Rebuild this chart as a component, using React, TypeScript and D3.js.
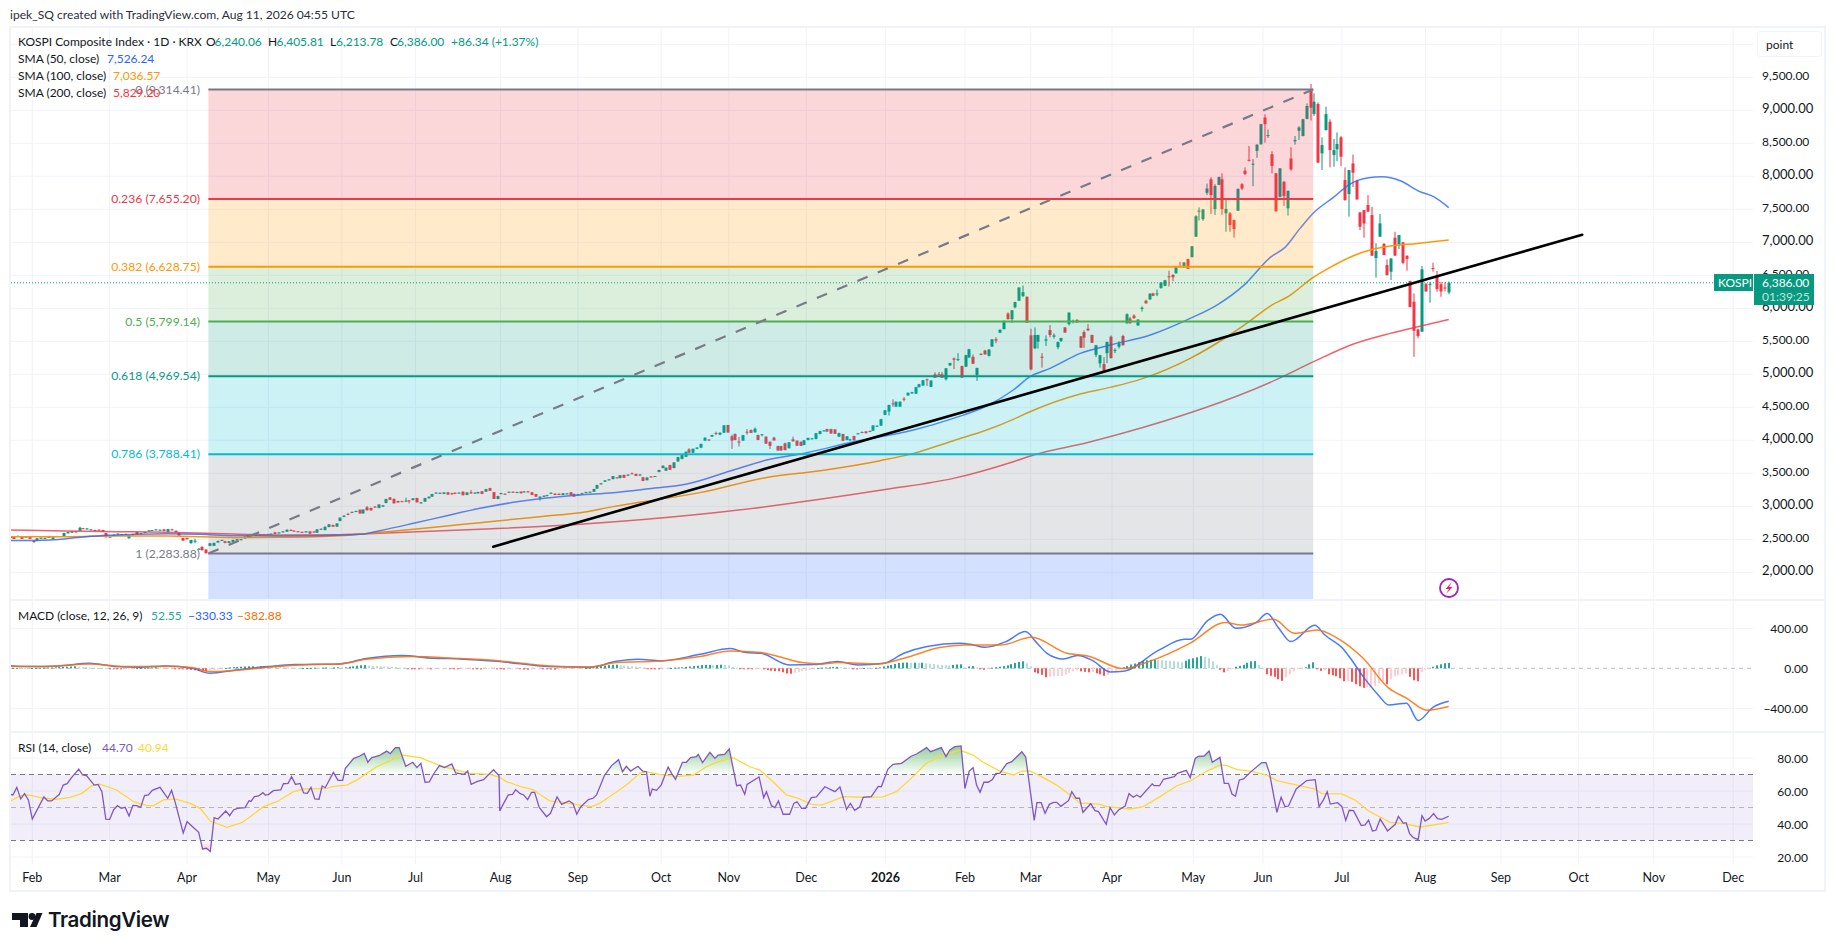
import React from 'react';
import * as d3 from 'd3';

const FONT = "Lato, 'Noto Sans', sans-serif";

// daily bars: open, high, low, close
const ohlc: number[][] = [
  [2520,2540,2515,2535],[2540,2545,2505,2505],[2540,2560,2535,2550],[2545,2550,2505,2505],[2530,2545,2525,2540],
  [2540,2545,2505,2505],[2475,2480,2445,2465],[2490,2515,2470,2515],[2510,2525,2505,2525],[2520,2525,2515,2522],
  [2535,2540,2525,2528],[2505,2535,2500,2530],[2535,2552,2533,2550],[2535,2550,2533,2550],[2550,2600,2548,2595],
  [2590,2615,2588,2610],[2600,2625,2598,2620],[2618,2622,2610,2612],[2630,2690,2625,2675],[2668,2672,2660,2663],
  [2650,2668,2648,2665],[2640,2652,2638,2650],[2635,2645,2632,2642],[2645,2650,2638,2640],[2640,2645,2615,2615],
  [2595,2597,2530,2530],[2530,2542,2528,2540],[2550,2572,2548,2570],[2570,2590,2565,2585],[2572,2580,2565,2577],
  [2575,2585,2570,2582],[2515,2560,2512,2555],[2570,2582,2555,2578],[2610,2612,2570,2570],[2580,2592,2578,2590],
  [2595,2612,2593,2610],[2622,2638,2620,2635],[2635,2642,2630,2640],[2640,2652,2635,2650],[2630,2648,2628,2645],
  [2650,2655,2625,2625],[2615,2660,2610,2655],[2650,2660,2640,2642],[2630,2632,2610,2610],[2595,2598,2555,2555],
  [2520,2522,2480,2480],[2520,2525,2500,2500],[2440,2490,2435,2490],[2470,2510,2440,2480],[2355,2370,2350,2355],
  [2385,2395,2330,2335],[2345,2350,2284,2290],
  [2400,2445,2395,2440],[2400,2450,2398,2445],[2452,2480,2445,2475],[2485,2495,2475,2490],[2470,2478,2440,2445],
  [2445,2475,2440,2470],[2460,2495,2455,2490],[2480,2505,2475,2500],[2490,2505,2485,2500],[2515,2545,2510,2540],
  [2540,2565,2535,2560],[2555,2580,2550,2575],[2570,2580,2560,2565],[2560,2575,2555,2570],[2575,2580,2565,2570],
  [2570,2585,2565,2580],[2575,2590,2570,2585],
  [2606,2612,2578,2582],[2595,2608,2590,2604],[2606,2625,2603,2620],[2615,2650,2612,2645],[2642,2652,2628,2630],
  [2632,2636,2618,2622],[2622,2626,2606,2610],[2612,2618,2604,2608],[2606,2626,2602,2620],[2620,2624,2582,2586],
  [2618,2624,2600,2604],[2600,2655,2598,2650],[2648,2664,2642,2660],[2640,2695,2636,2690],[2686,2732,2682,2727],
  [2716,2722,2688,2692],[2692,2745,2688,2740],[2778,2832,2772,2828],[2840,2865,2835,2858],[2885,2900,2865,2872],
  [2902,2920,2896,2915],[2925,2935,2918,2928],[2948,2952,2888,2892],[2892,2955,2888,2950],[2985,3005,2935,2940],
  [2975,2980,2935,2938],[2995,3005,2985,2990],[2975,3032,2970,3028],[2995,3020,2990,3014],[3050,3115,3045,3110],
  [3135,3140,3095,3098],[3112,3118,3042,3045],[3080,3085,3055,3058],[3078,3085,3065,3070],[3080,3130,3072,3085],
  [3090,3095,3045,3082],[3095,3125,3090,3120],[3125,3130,3058,3060],[3055,3065,3040,3060],[3070,3128,3065,3125],
  [3122,3150,3118,3145],[3146,3190,3142,3185],[3195,3212,3190,3208],[3195,3210,3190,3205],[3188,3215,3185,3210],
  [3212,3218,3175,3178],[3198,3205,3170,3190],[3205,3212,3185,3195],[3198,3212,3192,3208],[3222,3226,3165,3168],
  [3172,3215,3168,3210],[3212,3245,3190,3195],[3200,3212,3192,3208],[3198,3220,3192,3216],[3228,3232,3185,3188],
  [3222,3265,3218,3260],[3275,3280,3232,3235],[3215,3218,3112,3112],[3112,3160,3108,3155],[3185,3205,3180,3200],
  [3190,3196,3178,3183],[3212,3225,3205,3220],[3220,3226,3208,3212],[3212,3222,3205,3216],[3222,3226,3195,3198],
  [3215,3230,3210,3225],[3226,3232,3212,3216],[3212,3218,3170,3172],[3185,3190,3145,3146],[3128,3150,3085,3146],
  [3150,3165,3142,3160],[3160,3175,3150,3170],[3192,3212,3185,3205],[3192,3196,3170,3172],[3190,3195,3170,3172],
  [3172,3202,3168,3198],[3185,3200,3180,3195],[3212,3218,3165,3168],[3188,3192,3146,3148],[3170,3190,3165,3182],
  [3188,3205,3182,3198],[3205,3222,3200,3215],[3210,3225,3205,3220],[3222,3265,3218,3262],[3268,3325,3262,3322],
  [3335,3355,3330,3348],[3372,3398,3368,3392],[3398,3415,3392,3408],[3412,3460,3408,3458],[3438,3442,3422,3425],
  [3428,3475,3422,3472],[3475,3480,3430,3432],[3465,3485,3458,3480],[3500,3512,3488,3492],[3490,3496,3458,3460],
  [3470,3490,3462,3482],[3440,3445,3382,3385],[3395,3440,3392,3436],[3452,3458,3442,3446],[3450,3460,3445,3458],
  [3520,3555,3515,3550],
  [3580,3620,3575,3615],[3540,3590,3535,3585],[3625,3630,3550,3553],[3580,3668,3575,3665],[3680,3750,3675,3745],
  [3718,3778,3712,3776],[3750,3830,3745,3826],[3862,3880,3810,3812],[3812,3875,3808,3872],[3872,3895,3865,3890],
  [3888,3950,3882,3945],[3995,4045,3990,4040],[4012,4018,3990,4000],[4055,4085,4050,4080],[4110,4130,4080,4100],
  [4085,4120,4078,4115],[4115,4232,4110,4228],[4232,4235,4116,4118],[4060,4085,3870,3995],[4095,4105,4000,4005],
  [3980,4050,3905,3970],[3995,4082,3990,4078],[4130,4170,4085,4120],[4155,4165,4110,4112],[4120,4195,4115,4175],
  [4080,4085,4002,4005],[4085,4095,4060,4092],[4055,4060,3945,3948],[3978,3982,3868,3915],[4040,4055,3995,3998],
  [3913,3918,3842,3845],[3913,3918,3842,3845],[3954,3965,3848,3852],[3880,3975,3875,3970],[4015,4055,3980,3985],
  [3994,4000,3915,3918],[3978,3982,3912,3915],[3930,4005,3925,4000],[4005,4040,4000,4036],[4025,4035,4015,4030],
  [4020,4112,4015,4108],[4095,4145,4090,4140],[4140,4155,4135,4150],[4170,4175,4130,4132],[4170,4175,4100,4102],
  [4165,4170,4095,4098],[4055,4115,4050,4110],[4095,4100,3990,3992],[4005,4065,4000,4060],[4000,4025,3985,4015],
  [4065,4070,3998,4000],[4100,4112,4090,4105],[4125,4135,4110,4118],[4135,4140,4105,4108],[4140,4150,4125,4130],
  [4145,4230,4140,4225],[4210,4225,4205,4222],[4222,4325,4218,4320],[4385,4460,4380,4455],[4435,4540,4375,4535],
  [4560,4620,4510,4545],[4510,4590,4505,4585],[4510,4590,4505,4585],[4630,4655,4590,4620],[4680,4725,4675,4720],
  [4710,4735,4705,4730],[4705,4810,4700,4805],[4805,4855,4800,4850],[4830,4915,4825,4910],[4925,4935,4825,4915],
  [4810,4910,4805,4905],[4998,5030,4945,4948],[5000,5035,4990,4995],[5000,5035,4945,4948],[4925,5095,4905,5090],
  [5135,5175,5125,5170],[5240,5255,5080,5220],[5220,5320,5200,5230],[5125,5130,4950,4950],[5115,5295,5110,5290],
  [5255,5385,5250,5380],[5265,5300,5155,5160],[4990,5100,4900,5095],[5310,5320,5290,5300],[5360,5370,5300,5302],
  [5280,5380,5270,5375],[5420,5535,5415,5530],[5530,5560,5470,5510],[5630,5680,5625,5675],[5685,5815,5680,5810],
  [5920,5940,5830,5835],[5835,5975,5780,5970],[6015,6100,6000,6095],[6115,6320,6110,6315],[6185,6345,6170,6245],
  [6175,6180,5780,5782],[5590,5690,5060,5075],[5395,5710,5380,5595],[5495,5600,5390,5595],[5265,5320,5100,5260],
  [5510,5590,5430,5530],[5670,5745,5560,5595],[5570,5620,5540,5590],[5410,5495,5380,5490],[5505,5555,5490,5550],
  [5710,5715,5630,5632],[5760,5940,5740,5935],[5800,5830,5770,5810],[5825,5835,5780,5785],
  [5575,5580,5400,5403],[5640,5665,5400,5555],[5690,5760,5660,5665],[5595,5600,5475,5478],[5295,5445,5260,5440],
  [5165,5295,5100,5290],[5155,5260,5050,5055],[5320,5495,5170,5490],[5570,5590,5240,5245],[5360,5395,5320,5370],
  [5418,5500,5390,5468],[5580,5600,5435,5440],[5772,5925,5770,5910],[5847,5870,5765,5775],[5890,5910,5840,5850],
  [5740,5835,5735,5830],[5990,6030,5950,6010],[6115,6130,6070,6075],[6135,6230,6125,6222],[6226,6235,6185,6188],
  [6220,6285,6185,6225],[6305,6395,6300,6390],[6340,6430,6335,6425],[6485,6570,6330,6480],[6505,6520,6410,6470],
  [6530,6635,6525,6630],[6640,6705,6620,6635],[6620,6700,6615,6695],[6745,6750,6595,6598],[6775,6945,6770,6940],
  [7085,7410,7080,7395],[7480,7530,7330,7480],[7350,7505,7325,7498],[7750,7890,7715,7815],[7955,7985,7430,7715],
  [7504,7880,7415,7852],[7870,7995,7865,7990],[7955,8045,7415,7505],[7440,7640,7160,7505],[7438,7460,7160,7262],
  [7337,7345,7070,7200],[7478,7815,7475,7810],[7880,7895,7790,7815],[8085,8135,8020,8035],[8250,8460,8225,8235],
  [8180,8260,7850,8190],[8385,8485,8280,8480],[8485,8795,8480,8790],[8890,8940,8510,8790],[8610,8710,8580,8625],
  [8335,8380,8045,8155],[8045,8050,7465,7470],[7690,8125,7680,8120],[7918,7925,7550,7700],[7515,7785,7405,7780],
  [8270,8440,8085,8105],[8530,8610,8480,8550],[8690,8760,8550,8740],[8610,8870,8605,8865],[8870,9105,8865,9065],
  [9290,9400,8845,9040],[8945,9255,8915,9130],[9095,9120,8205,8208],[8347,8590,8095,8473],[8700,9055,8695,8942],
  [8827,8865,8135,8398],[8322,8565,8145,8398],[8408,8665,8230,8490],[8590,8610,8155,8297],[7943,8135,7630,7640],
  [7730,8095,7388,8095],[8195,8330,7840,8055],[7933,7950,7645,7650],[7453,7460,7185,7235],[7488,7490,7070,7285],
  [7565,7715,7460,7465],[7413,7540,6795,6797],[6760,6985,6465,6868],[7085,7428,7080,7287],[6975,6990,6805,6808],
  [6655,6740,6495,6503],[6555,6757,6428,6755],[7070,7160,6795,6798],[6967,7110,6897,7110],[7000,7005,6670,6690],
  [6797,6800,6570,6748],[6412,6420,6015,6020],[6100,6225,5265,5660],[5680,5690,5545,5580],[5645,6640,5645,6590],
  [6367,6385,6250,6255],[6360,6400,6085,6370],[6610,6690,6555,6600],[6495,6565,6250,6290],[6365,6400,6175,6255],
  [6315,6395,6255,6300],[6240.06,6405.81,6213.78,6386],
];

// moving averages: [bars back from the last bar, value]
const sma50: number[][] = [
  [371.7,2480],[361.4,2490],[352.8,2535],[346.7,2560],[339.8,2575],[331.2,2585],[322.6,2575],[314,2555],[302,2550],
  [291.7,2555],[281.3,2575],[276.2,2631],[267.5,2742],[258.9,2858],[250.3,2969],[241.7,3060],[233.1,3126],[224.5,3171],
  [215.9,3207],[207.3,3262],[196.9,3337],[185.7,3534],[176.2,3701],[165.9,3812],[153.8,3979],[138.3,4155],[128,4332],
  [119.4,4519],[112.5,4762],[108.2,4964],[103,5090],[95.2,5317],[87.5,5443],[77.1,5595],[66.8,5847],[59.9,6049],
  [52.6,6367],[46.1,6771],[42.3,6923],[38.4,7211],[34.9,7448],[29.8,7680],[25.5,7882],[20.7,7978],[17.3,7993],
  [12.5,7933],[7.8,7776],[3.9,7691],[0,7526],
];
const sma100: number[][] = [
  [371.7,2540],[357.1,2540],[344.2,2550],[331.2,2550],[314,2525],[302,2530],[286.5,2555],[276.2,2606],[267.5,2651],
  [258.9,2702],[250.3,2752],[241.7,2803],[233.1,2853],[224.5,2904],[215.9,2995],[207.3,3075],[193.5,3207],[176.2,3438],
  [162.4,3539],[146.9,3691],[138.3,3802],[128,3994],[119.4,4155],[112.5,4317],[108.2,4433],[95.2,4701],[87.5,4802],
  [79.7,4923],[66.8,5241],[57.3,5569],[52.2,5772],[46.1,6034],[40.9,6201],[35.4,6453],[31.1,6605],[24.6,6797],
  [20.3,6882],[15.1,6943],[8.2,6983],[0,7036.57],
];
const sma200: number[][] = [
  [371.7,2641],[357.1,2626],[344.2,2616],[331.2,2606],[314,2580],[302,2565],[286.5,2570],[276.2,2590],[250.3,2651],
  [224.5,2727],[193.5,2878],[145.2,3257],[128,3423],[112.5,3676],[107.3,3777],[93.5,3964],[85,4095],[44.4,4923],
  [34.9,5191],[24.6,5458],[15.1,5620],[9.1,5706],[0,5829.2],
];

const macdLine: number[][] = [
  [371.8,27],[367.4,17],[359.3,24],[351.2,50],[344.3,17],[338.5,10],[331.6,24],[324.7,0],[320.1,-50],[313.2,-16],[305.1,17],
  [298.2,37],[286.6,44],[279.7,97],[270.5,127],[262.4,100],[255.5,94],[245.1,67],[232.4,17],[222.1,10],[215.1,70],[209.4,90],
  [203.6,74],[193.5,140],[185.6,197],[181.6,157],[177.7,150],[170.4,34],[163.8,37],[157.9,67],[152.6,34],[146,50],[140.8,150],
  [134.8,217],[126.3,250],[123.6,240],[119.7,210],[114.4,267],[109.4,367],[106.5,257],[103.8,150],[99.6,94],[95.9,127],[92,77],
  [87.4,-36],[84.1,-30],[74.8,184],[68.3,290],[66.7,290],[62.3,477],[59,540],[55,400],[49.8,457],[46.9,547],[43.9,400],
  [40.8,267],[34.6,430],[32,333],[27.4,200],[25.4,100],[22.1,-83],[18.2,-266],[15.5,-366],[10.9,-349],[7.9,-522],[4,-389],[0,-330.33],
];
const macdSignal: number[][] = [
  [371.8,20],[362.8,17],[351.2,44],[342,17],[331.6,20],[324.7,7],[320.1,-33],[313.2,-20],[305.1,10],[293.6,37],[286.6,44],
  [279.7,90],[268.2,117],[255.5,97],[245.1,74],[232.4,24],[222.1,14],[215.1,57],[203.6,74],[193.5,117],[185.6,174],[177.7,157],
  [173.7,124],[167.1,57],[161.9,44],[157.9,57],[147.4,44],[140.8,100],[131.5,207],[124.9,234],[115.7,234],[107.8,310],[98.6,150],
  [93.3,124],[84.1,-3],[77.5,67],[66.9,250],[57.7,457],[53.7,433],[45.2,490],[39.9,350],[34,383],[28.7,300],[22.1,100],
  [15.5,-199],[10.9,-299],[5.6,-419],[0,-382.88],
];
// one histogram value per bar, oldest first
const macdHist: number[] = [
  5,5,4,3,2,3,4,5,6,8,8,10,12,14,16,18,20,
  15,12,10,8,5,3,2,1,
  -2,-4,-6,-8,-6,-5,-3,
  2,4,6,8,8,10,8,6,4,2,
  -2,-4,-8,-12,-16,-20,-25,-28,-30,
  -25,-18,-10,-4,
  4,8,12,14,16,18,20,20,18,20,22,
  18,16,14,12,10,8,6,4,2,
  2,3,4,6,5,7,8,6,8,10,8,10,
  16,20,26,30,32,
  26,24,22,20,18,16,14,12,8,4,
  -2,-4,-6,-8,-8,-6,-10,-8,
  -6,-5,-4,-6,-8,-10,-8,-6,-5,-7,-9,-11,-9,-7,-5,-8,-10,-12,-10,-8,-6,-9,-12,-14,-11,-8,-6,-8,-10,-12,-14,-12,-10,-8,-6,-5,-4,-2,
  3,6,10,16,22,28,32,35,36,
  30,28,24,20,16,12,6,
  -2,-4,-5,-6,-4,-2,
  3,6,8,10,14,18,22,26,
  32,34,34,32,34,36,34,30,14,6,
  -4,-6,-8,-10,-8,-6,-8,
  -18,-24,-28,-30,-40,-52,-54,
  -44,-36,-30,-24,-16,-8,
  4,6,8,10,12,14,10,8,5,
  -6,-8,-5,4,3,2,5,
  10,18,26,34,44,54,
  56,58,54,56,54,56,50,
  46,42,36,34,30,28,34,38,40,
  6,18,22,6,-10,-14,-8,
  6,10,16,22,30,42,54,64,70,50,20,
  -40,-52,-65,-90,
  -85,-80,-78,-75,-60,-45,-30,-20,
  -30,-35,-40,-38,-50,-60,-75,-65,
  -40,-25,-10,
  10,22,38,48,60,72,80,85,
  85,82,80,78,75,72,66,60,
  75,90,100,110,122,
  115,100,70,30,
  -15,-40,-25,-10,
  15,25,35,55,70,72,35,5,
  -60,-75,-85,-110,-125,
  -90,-60,-30,-5,-3,
  10,40,60,
  -10,-25,-20,-60,-70,-80,-100,
  -130,-130,-135,-160,-180,-195,
  -190,-190,-175,-150,-130,-160,
  -110,-80,-70,-60,-50,
  -85,-120,-130,
  -40,-15,-5,
  15,30,40,50,52.55,
];

const rsi: number[][] = [
  [372,58.2],[371,57.6],[370,62.2],[369,55.2],[368,58.4],[367,54.6],[366,43],[363,56.4],[362,54],[361,54],[359,58],[358,63.6],
  [357,64.4],[356,67.7],[354,73.3],[353,69.7],[352,69.3],[350,63.6],[349,64],[348,59.6],[347,43],[346,42.8],[345,48.5],[344,51.1],
  [343,49.5],[342,50.1],[341,44.9],[340,51.3],[339,51.1],[338,50.1],[337,57.2],[336,57.6],[335,60.4],[333,62.2],[331,55.6],[330,60.4],
  [329,52.5],[327,34.6],[326,41.4],[323,35],[322,24.9],[321,25.3],[320,23.4],[319,43.8],[318,43],[316,47.9],[315,45.1],[314,48.5],
  [313,49.5],[311,49.9],[310,54.1],[309.5,53.7],[308.6,56.6],[307.5,57],[306.4,59],[305.8,57.6],[305,57.8],[303.7,60.2],[301.8,60.6],
  [301.1,64.4],[299.9,64.6],[299,68.7],[298,64],[296.8,64.6],[295.9,58.8],[294.9,58.6],[294,62.2],[293,55.2],[291.9,55],[291.1,63],
  [290.3,62],[288.2,71.3],[287,66.5],[285.8,66.5],[285.1,73.7],[283,79.6],[281.4,81.2],[280.2,82.8],[279.3,77.4],[278.3,80.2],
  [276.4,81.4],[274.4,84.2],[273.5,82.6],[272.2,86.3],[271.2,86.3],[269.5,75],[267.7,77.4],[266.6,74.2],[265.6,76.8],[264.5,65.3],
  [263.4,65.5],[262.3,70.3],[260.8,75.4],[259.5,74.2],[257.6,76.4],[256.6,70.9],[254.4,70.1],[253.5,72.1],[252.6,64],[251.1,65.7],
  [249.4,66.9],[246.8,72.9],[245.4,69.3],[245.2,47.9],[244.2,52.5],[243,57.6],[241.9,58],[241.1,60.8],[239.9,58.4],[239,57.6],[238,54.8],
  [237,59.2],[236.2,59.2],[235,50.1],[233.1,44.4],[232.1,46.5],[230.4,56.4],[229.2,51.9],[227.3,54],[226.3,52.5],[225.3,45.9],[224.3,50.3],
  [222.3,54.8],[221.1,55.6],[220.2,57.6],[218.1,69.7],[216.3,75.4],[214.5,79],[213.5,71.7],[212.5,75],[211.4,72.1],[209.5,75],[208.3,72.1],
  [207.3,71.7],[206.4,56.8],[205.8,61.2],[204.7,60.4],[203.5,63.6],[201.7,74.5],[200.8,70.7],[199.8,67.1],[198,77.4],[197,77.4],[195.9,80.2],
  [194.4,80.8],[193.9,82.2],[192.8,77.2],[190.9,83.4],[189.6,79.8],[188.8,81.8],[187.1,82.2],[185.9,85.5],[184,63.2],[183,63.6],[181.9,58],
  [181.3,64],[178.2,68.5],[177,56],[176.3,59.6],[175,51.1],[174.1,49.9],[173.2,54],[172,45.9],[170.3,45.9],[169.2,52.5],[168.4,53.5],[167.2,49.5],
  [166.2,49.5],[164.7,56],[163.4,56.4],[161.2,62.6],[158.6,59.6],[157.3,62.4],[155.6,48.9],[154.6,52.5],[153.5,48.3],[152.2,50.3],[151.3,56.2],
  [149.2,56.6],[147.4,62.8],[146.6,62.6],[144.9,73.3],[143.6,76.2],[141.4,76.8],[138.8,81.2],[137.5,82.4],[134.9,86.3],[133.9,83.8],[131.1,86.3],
  [129.9,80.8],[128.9,84.9],[127.6,86.9],[126,87.3],[125,61.6],[123.9,72.1],[122.9,74.1],[122,63.6],[121.1,59.2],[120.1,65.3],[119,65.3],[117.9,66.9],
  [117,70.7],[116,70.7],[114.2,76.6],[112.9,77.8],[110.3,83.8],[109.3,80.6],[107.1,42.2],[106.4,52.9],[105.3,52.9],[104.3,46.5],[103.2,51.9],
  [102.1,53.1],[101.3,53.1],[100.2,50.7],[98.2,54.3],[97.4,59.6],[96.3,55.6],[95.4,55.6],[94.5,47.1],[92.5,52.3],[91.4,48.1],[90.5,47.5],[88.5,39.8],
  [87.5,49.9],[86.4,45.5],[85.3,48.5],[83.6,50.9],[82.6,58.4],[81.5,56.2],[80.6,57.6],[79.7,56.2],[76.6,64.3],[76.1,63.2],[74.7,63.2],[73.7,67.1],
  [70.9,68.7],[70.1,70.7],[67.8,72.5],[66.8,68.1],[65.5,79.8],[64.7,81],[63.2,81.2],[61.9,84.2],[61.1,77.4],[59.1,80.4],[58,64.6],[56.9,64.6],[56,58.2],
  [55.1,56.8],[54.1,66.7],[53,67.3],[51.3,71.3],[48.3,77.2],[47.2,77.2],[46.3,70.7],[44.4,47.1],[43.3,56.2],[42.3,50.5],[41.4,50.9],[39.4,61.2],
  [36.7,66.3],[34.5,66.9],[33.5,50.5],[32.4,54.5],[31.4,59.6],[30.6,52.1],[28.7,52.9],[27.6,50.5],[26.6,42.2],[25.7,48.3],[24.6,48.1],[22.6,39],
  [21.6,39.4],[20.7,42.4],[19.7,35.8],[18.8,36.2],[17.7,43],[15.8,35.8],[13.8,39.8],[13,44.6],[11.7,40.4],[11,40.8],[10.1,34.2],[9.1,31.7],[7.9,30.5],
  [6.9,45.1],[6.1,41.8],[5,43.4],[3.9,46.3],[2.9,43.2],[1.8,42.8],[0,44.7],
];
const rsiMa: number[][] = [
  [371.7,53.9],[369.1,57.2],[367,57.6],[363.1,55.6],[359.7,55],[356.2,56.2],[353.2,58.6],[350.6,63.2],[348.5,64.2],[344.2,60.6],[339.8,53.5],
  [336.4,51.1],[334.7,51.1],[332.1,54.6],[329.1,55.2],[325.2,52.5],[322.6,49.5],[320,41.8],[315.7,38],[311.9,40.8],[309.7,44.4],[306.3,50.5],
  [302.8,53.5],[298.5,59.6],[295.9,61.2],[289.9,61.6],[288.2,62.8],[284.7,63.6],[282.1,66.7],[279.6,70.7],[277,74.7],[273.5,78.4],[270.5,81.8],
  [265.8,80.2],[260.6,75.4],[256.3,72.7],[252.9,70.7],[247.7,70.1],[245.2,68.3],[243.5,65.7],[240,62.8],[236.6,60.8],[234.9,58],[232.3,54],
  [228.8,53.1],[224.5,51.5],[221.5,50.5],[219.4,52.5],[215.9,58],[212.5,63.6],[209,70.7],[207.3,71.7],[203.9,70.1],[199.6,68.7],[195.2,69.7],
  [191.8,74.7],[189.2,77.4],[186.2,79.4],[184.9,80.2],[180.6,74.7],[178,72.7],[173.7,63.6],[171.1,57.6],[167.7,55.2],[164.7,51.9],[162.1,51.5],
  [159.1,54],[156.5,56.6],[151.3,56.2],[146.2,56.4],[142.7,59.6],[138.4,68.7],[135,76.8],[130.7,81.8],[126.3,84.8],[122.9,81.8],[120.3,77.4],
  [116,72.1],[112.5,69.7],[110.3,72.1],[108.1,72.1],[104.7,68.1],[101.3,63.6],[97.8,57.6],[95.2,52.5],[93.3,52.5],[90.1,51.9],[88.3,50.5],
  [82.3,49.1],[78.9,50.5],[74.6,56.6],[70.2,63.2],[66.8,66.1],[62.5,72.1],[59,75.8],[57.3,75.4],[54.7,72.9],[51.3,72.1],[47,69.7],[44.4,66.3],
  [40.1,64],[34.5,61.2],[32.8,58.4],[27.6,58.2],[24.2,54.5],[20.7,47.9],[15.1,41],[11.7,40.4],[7.5,38.2],[3.9,39.4],[0,40.94],
];

const fibRatios = ['0', '0.236', '0.382', '0.5', '0.618', '0.786', '1'];
const fibPrices = [9314.41, 7655.2, 6628.75, 5799.14, 4969.54, 3788.41, 2283.88];
const fibColors = ['#787b86', '#f23645', '#ff9800', '#4caf50', '#089981', '#00bcd4', '#787b86'];
const fibFills = ['#f23645', '#ff9800', '#4caf50', '#089981', '#00bcd4', '#787b86', '#2962ff'];

const priceTicks = [2000, 2500, 3000, 3500, 4000, 4500, 5000, 5500, 6000, 6500, 7000, 7500, 8000, 8500, 9000, 9500];
const macdTicks = [400, 0, -400];
const rsiTicks = [80, 60, 40, 20];
const monthLabels = ['Feb','Mar','Apr','May','Jun','Jul','Aug','Sep','Oct','Nov','Dec','2026','Feb','Mar','Apr','May','Jun','Jul','Aug','Sep','Oct','Nov','Dec'];
const monthBarsBack = [366,346,326,305,286,267,245,225,203.5,186,166,145.5,125,108,87,66,48,27.6,6,-13.5,-33.6,-53,-73.5];

const lastClose = 6386;
const trendFrom = [246.9, 2388];
const trendTo = [-34.5, 7115];
const fibStartBack = 320.5;
const fibEndBack = 35;

const fmt = d3.format(',.2f');
const minus = (s: string) => s.replace('-', '\u2212');

// pane geometry
const paneL = 11, paneR = 1753;
const xBack = d3.scaleLinear().domain([0, 100]).range([1448.7, 1448.7 - 387]);
const barBack = d3.scaleLinear().domain([0, ohlc.length - 1]).range([371.6, 0]);
const yPrice = d3.scaleLinear().domain([2000, 9500]).range([572.3, 77.3]);
const yMacd = d3.scaleLinear().domain([-400, 400]).range([708.3, 628.3]);
const yRsi = d3.scaleLinear().domain([20, 80]).range([857, 758]);

const lineOf = (y: d3.ScaleLinear<number, number>, curve: d3.CurveFactory = d3.curveLinear) =>
  d3.line<number[]>().x(d => xBack(d[0])).y(d => y(d[1])).curve(curve);

const Label = (p: any) => <text fontFamily={FONT} fontSize={12} fill="#131722" {...p} />;

export default function App() {
  const fibEndX = xBack(fibEndBack);
  const fibStartX = xBack(fibStartBack);
  const topY = yPrice(fibPrices[0]);
  const lastY = yPrice(lastClose);
  const histBar = (i: number) => xBack(macdHist.length - 1 - i);

  const rsiArea = (base: number) =>
    d3.area<number[]>().x(d => xBack(d[0])).y0(yRsi(base)).y1(d => yRsi(d[1]))(rsi) || '';

  return (
    <svg width={1835} height={951} style={{ position: 'absolute', left: 0, top: 0, background: '#fff' }}>
      <defs>
        <clipPath id="mainClip"><rect x={paneL} y={28} width={paneR - paneL} height={572} /></clipPath>
        <clipPath id="macdClip"><rect x={paneL} y={602} width={paneR - paneL} height={129} /></clipPath>
        <clipPath id="rsiClip"><rect x={paneL} y={734} width={paneR - paneL} height={129} /></clipPath>
        <clipPath id="overClip"><rect x={paneL} y={734} width={paneR - paneL} height={yRsi(70) - 734} /></clipPath>
        <clipPath id="underClip"><rect x={paneL} y={yRsi(30)} width={paneR - paneL} height={863 - yRsi(30)} /></clipPath>
        <linearGradient id="overFill" gradientUnits="userSpaceOnUse" x1={0} x2={0} y1={yRsi(87)} y2={yRsi(70)}>
          <stop offset="0" stopColor="#4caf50" stopOpacity={0.6} />
          <stop offset="1" stopColor="#4caf50" stopOpacity={0} />
        </linearGradient>
        <linearGradient id="underFill" gradientUnits="userSpaceOnUse" x1={0} x2={0} y1={yRsi(30)} y2={yRsi(22)}>
          <stop offset="0" stopColor="#f23645" stopOpacity={0} />
          <stop offset="1" stopColor="#f23645" stopOpacity={0.35} />
        </linearGradient>
      </defs>

      <text x={10} y={19} fontFamily={FONT} fontSize={12.1} fill="#2a2e39">
        ipek_SQ created with TradingView.com, Aug 11, 2026 04:55 UTC
      </text>

      {/* grid */}
      <g stroke="#f0f3fa" strokeWidth={1}>
        {monthBarsBack.map((b, i) => (
          <line key={i} x1={xBack(b)} x2={xBack(b)} y1={28} y2={864} />
        ))}
        {priceTicks.concat(10000).map(t => (
          <line key={t} x1={paneL} x2={paneR} y1={yPrice(t)} y2={yPrice(t)} />
        ))}
        {macdTicks.filter(t => t !== 0).map(t => (
          <line key={t} x1={paneL} x2={paneR} y1={yMacd(t)} y2={yMacd(t)} />
        ))}
        {rsiTicks.map(t => (
          <line key={t} x1={paneL} x2={paneR} y1={yRsi(t)} y2={yRsi(t)} />
        ))}
      </g>

      {/* price pane */}
      <g clipPath="url(#mainClip)">
        <line x1={paneL} x2={1714} y1={lastY} y2={lastY} stroke="#089981" strokeWidth={1} strokeDasharray="1 2" />
        {ohlc.map((d, i) => {
          const x = Math.round(xBack(barBack(i)));
          const up = d[3] >= d[0];
          const color = up ? '#089981' : '#f23645';
          const top = yPrice(Math.max(d[0], d[3]));
          const h = Math.max(1, yPrice(Math.min(d[0], d[3])) - top);
          return (
            <g key={i} fill={color}>
              <rect x={x - 0.5} width={1} y={yPrice(d[1])} height={Math.max(1, yPrice(d[2]) - yPrice(d[1]))} />
              <rect x={x - 1.5} width={3} y={top} height={h} />
            </g>
          );
        })}
        <g fill="none" strokeWidth={1.5}>
          <path d={lineOf(yPrice, d3.curveMonotoneX)(sma200) || ''} stroke="#f23645" strokeOpacity={0.8} />
          <path d={lineOf(yPrice, d3.curveMonotoneX)(sma100) || ''} stroke="#ff9800" />
          <path d={lineOf(yPrice, d3.curveMonotoneX)(sma50) || ''} stroke="#2962ff" strokeOpacity={0.8} />
        </g>

        {/* fib retracement */}
        {fibFills.map((c, i) => {
          const y0 = yPrice(fibPrices[i]);
          const y1 = i < fibPrices.length - 1 ? yPrice(fibPrices[i + 1]) : 600;
          return <rect key={i} x={fibStartX} width={fibEndX - fibStartX} y={y0} height={y1 - y0} fill={c} fillOpacity={0.2} />;
        })}
        {fibPrices.map((p, i) => (
          <line key={i} x1={fibStartX} x2={fibEndX} y1={yPrice(p)} y2={yPrice(p)} stroke={fibColors[i]} strokeWidth={2} />
        ))}
        <line x1={fibStartX} y1={yPrice(fibPrices[6])} x2={fibEndX} y2={topY} stroke="#787b86" strokeWidth={2.2} strokeDasharray="11 11" />
        <line
          x1={xBack(trendFrom[0])} y1={yPrice(trendFrom[1])} x2={xBack(trendTo[0])} y2={yPrice(trendTo[1])}
          stroke="#000" strokeWidth={2.6} strokeLinecap="round"
        />
      </g>
      {fibPrices.map((p, i) => (
        <text
          key={i} x={200} y={yPrice(p) + 4} textAnchor="end" fontFamily={FONT} fontSize={12.2}
          fill={fibColors[i]}
        >
          {fibRatios[i]} ({fmt(p)})
        </text>
      ))}

      {/* MACD pane */}
      <line x1={paneL} x2={paneR} y1={yMacd(0)} y2={yMacd(0)} stroke="#787b86" strokeOpacity={0.5} strokeDasharray="4 4" />
      <g clipPath="url(#macdClip)">
        {macdHist.map((v, i) => {
          const prev = i > 0 ? macdHist[i - 1] : 0;
          const rising = v >= prev;
          const color = v >= 0 ? (rising ? '#26a69a' : '#b2dfdb') : (rising ? '#ffcdd2' : '#ff5252');
          return (
            <rect
              key={i} x={Math.round(histBar(i)) - 1} width={2}
              y={Math.min(yMacd(v), yMacd(0))} height={Math.max(1, Math.abs(yMacd(v) - yMacd(0)))} fill={color}
            />
          );
        })}
        <path d={lineOf(yMacd, d3.curveMonotoneX)(macdLine) || ''} fill="none" stroke="#2962ff" strokeOpacity={0.85} strokeWidth={1.5} />
        <path d={lineOf(yMacd, d3.curveMonotoneX)(macdSignal) || ''} fill="none" stroke="#ff6d00" strokeOpacity={0.85} strokeWidth={1.5} />
      </g>

      {/* RSI pane */}
      <rect x={paneL} width={paneR - paneL} y={yRsi(70)} height={yRsi(30) - yRsi(70)} fill="#7e57c2" fillOpacity={0.1} />
      <g stroke="#787b86" strokeWidth={1} strokeDasharray="5 4">
        <line x1={paneL} x2={paneR} y1={yRsi(70)} y2={yRsi(70)} />
        <line x1={paneL} x2={paneR} y1={yRsi(50)} y2={yRsi(50)} strokeOpacity={0.5} />
        <line x1={paneL} x2={paneR} y1={yRsi(30)} y2={yRsi(30)} />
      </g>
      <g clipPath="url(#rsiClip)">
        <path d={rsiArea(70)} fill="url(#overFill)" clipPath="url(#overClip)" />
        <path d={rsiArea(30)} fill="url(#underFill)" clipPath="url(#underClip)" />
        <path d={lineOf(yRsi)(rsiMa) || ''} fill="none" stroke="#fdd835" strokeWidth={1.3} />
        <path d={lineOf(yRsi)(rsi) || ''} fill="none" stroke="#7e57c2" strokeWidth={1.3} />
      </g>

      {/* frame and pane separators */}
      <g stroke="#f0f3fa" strokeWidth={2} fill="none">
        <rect x={10} y={27} width={1815} height={864} />
        <line x1={10} x2={1825} y1={600} y2={600} />
        <line x1={10} x2={1825} y1={732} y2={732} />
      </g>

      {/* legends */}
      <Label x={18} y={46}>KOSPI Composite Index · 1D · KRX</Label>
      {['O', 'H', 'L', 'C'].map((c, i) => (
        <Label key={c} x={[206, 268, 330, 390][i]} y={46}>{c}</Label>
      ))}
      {[6240.06, 6405.81, 6213.78, 6386].map((v, i) => (
        <Label key={i} x={[214.5, 276.5, 336, 397][i]} y={46} fill="#089981">{fmt(v)}</Label>
      ))}
      <Label x={451} y={46} fill="#089981">+86.34 (+1.37%)</Label>
      {['SMA (50, close)', 'SMA (100, close)', 'SMA (200, close)'].map((t, i) => (
        <Label key={t} x={18} y={63 + i * 17}>{t}</Label>
      ))}
      {[7526.24, 7036.57, 5829.2].map((v, i) => (
        <Label key={i} x={i === 0 ? 107 : 113} y={63 + i * 17} fill={['#2962ff', '#ff9800', '#f23645'][i]}>{fmt(v)}</Label>
      ))}
      <Label x={18} y={620}>MACD (close, 12, 26, 9)</Label>
      {['52.55', '-330.33', '-382.88'].map((t, i) => (
        <Label key={t} x={[151, 188, 237][i]} y={620} fill={['#26a69a', '#2962ff', '#ff6d00'][i]}>{minus(t)}</Label>
      ))}
      <Label x={18} y={752}>RSI (14, close)</Label>
      <Label x={102} y={752} fill="#7e57c2">44.70</Label>
      <Label x={138} y={752} fill="#fdd835">40.94</Label>

      {/* right axis */}
      {priceTicks.map(t => (
        <Label key={t} x={1762} y={yPrice(t) + 3} fontSize={t % 1000 === 0 ? 13 : 12}>{fmt(t)}</Label>
      ))}
      {macdTicks.map(t => (
        <Label key={t} x={1808} y={yMacd(t) + 4.5} textAnchor="end">{minus(fmt(t))}</Label>
      ))}
      {rsiTicks.map(t => (
        <Label key={t} x={1808} y={yRsi(t) + 4.5} textAnchor="end">{fmt(t)}</Label>
      ))}
      <rect x={1757.5} y={31.5} width={64} height={25} rx={3} fill="#fff" stroke="#f0f3fa" strokeWidth={1} />
      <Label x={1766} y={48.5}>point</Label>

      {/* last price tags */}
      <rect x={1714} y={274} width={39} height={17} fill="#089981" />
      <Label x={1718} y={287} fill="#fff">KOSPI</Label>
      <rect x={1754} y={274} width={60} height={31} fill="#089981" />
      <Label x={1762} y={287} fill="#fff">{fmt(lastClose)}</Label>
      <Label x={1762} y={301} fill="#fff" fillOpacity={0.75}>01:39:25</Label>

      {/* time axis */}
      {monthLabels.map((m, i) => (
        <Label
          key={i} x={xBack(monthBarsBack[i])} y={882} textAnchor="middle" fontSize={12.5}
          fontWeight={m === '2026' ? 700 : 400}
        >
          {m}
        </Label>
      ))}

      {/* alert badge */}
      <circle cx={1449} cy={588} r={9} fill="#fff" stroke="#9c27b0" strokeWidth={1.8} />
      <path d="M1452 582 L1445.5 589 L1449 589 L1446 594 L1452.5 587 L1449 587 Z" fill="#e91e63" />

      {/* logo */}
      <path d="M12 913 H28 V927 H20 V920 H12 Z" fill="#131722" />
      <circle cx={32} cy={916.5} r={3.4} fill="#131722" />
      <path d="M36.5 913 H42.5 L36.5 927 H30 Z" fill="#131722" />
      <text x={48} y={927} fontFamily="Inter, sans-serif" fontWeight={600} fontSize={20.6} letterSpacing={-0.4} fill="#131722">TradingView</text>
    </svg>
  );
}
